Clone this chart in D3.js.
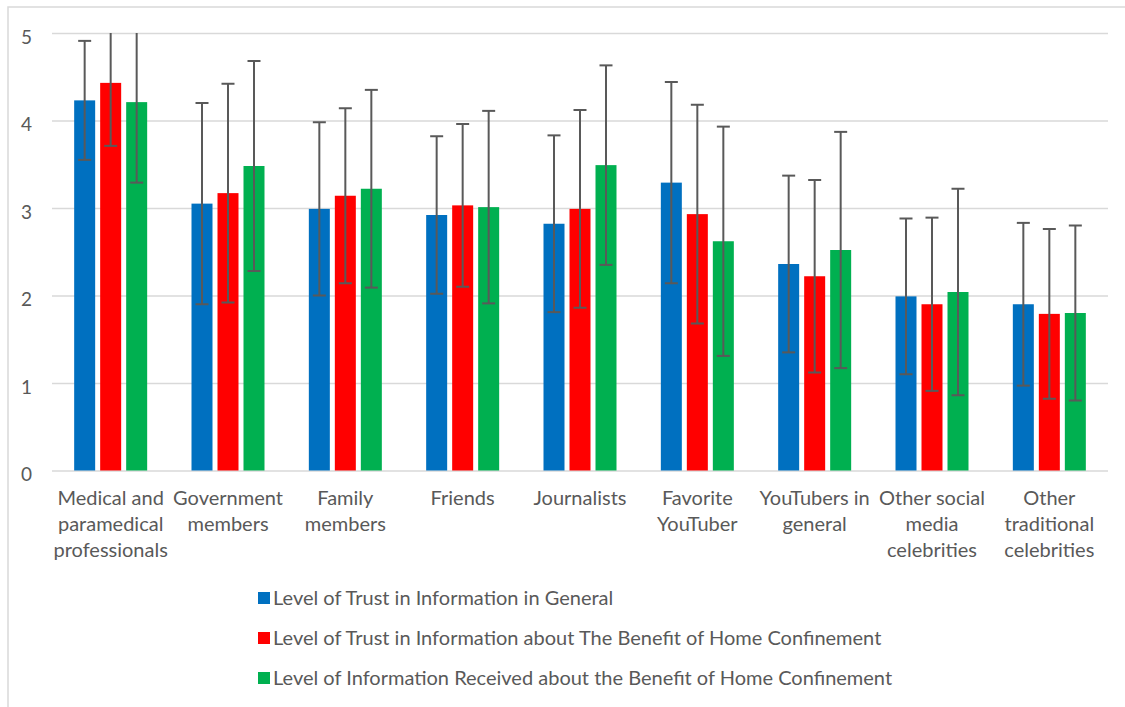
<!DOCTYPE html>
<html>
<head>
<meta charset="utf-8">
<script src="https://cdn.jsdelivr.net/npm/d3@7/dist/d3.min.js"></script>
<style>
  html, body { margin: 0; padding: 0; background: #fff; }
  svg { display: block; font-family: Lato, "Open Sans", sans-serif; }
</style>
</head>
<body>
<svg id="chart"></svg>
<script>
// categories, with the line breaks used under the axis
const categories = [
  ["Medical and", "paramedical", "professionals"],
  ["Government", "members"],
  ["Family", "members"],
  ["Friends"],
  ["Journalists"],
  ["Favorite", "YouTuber"],
  ["YouTubers in", "general"],
  ["Other social", "media", "celebrities"],
  ["Other", "traditional", "celebrities"]
];

const seriesNames = [
  "Level of Trust in Information in General",
  "Level of Trust in Information about The Benefit of Home Confinement",
  "Level of Information Received about the Benefit of Home Confinement"
];

const generalMean = [4.23, 3.05, 2.99, 2.92, 2.82, 3.29, 2.36, 1.99, 1.90];
const generalSd = [0.68, 1.15, 0.99, 0.90, 1.01, 1.15, 1.01, 0.89, 0.93];

const benefitMean = [4.43, 3.17, 3.14, 3.03, 2.99, 2.93, 2.22, 1.90, 1.79];
const benefitSd = [0.72, 1.25, 1.00, 0.93, 1.13, 1.25, 1.10, 0.99, 0.97];

const receivedMean = [4.21, 3.48, 3.22, 3.01, 3.49, 2.62, 2.52, 2.04, 1.80];
const receivedSd = [0.92, 1.20, 1.13, 1.10, 1.14, 1.31, 1.35, 1.18, 1.00];

const yTicks = [0, 1, 2, 3, 4, 5];

const colors = ["#0070C0", "#FF0000", "#00B050"];

const width = 1125;
const height = 707;
const plot = { left: 52, right: 1108, top: 33, bottom: 470.5 };

let xScale;
let xInner;
let yScale;
let data;

const drawCanvas = () => {
  const svg = d3.select("#chart")
    .attr("width", width)
    .attr("height", height);

  // chart area border (only left and top fall inside the picture)
  svg.append("rect")
    .attr("x", 8)
    .attr("y", 7)
    .attr("width", width + 20)
    .attr("height", height + 20)
    .attr("fill", "none")
    .attr("stroke", "#d9d9d9")
    .attr("stroke-width", 1.5);
};

const buildData = () => {
  const means = [generalMean, benefitMean, receivedMean];
  const sds = [generalSd, benefitSd, receivedSd];
  data = [];
  categories.forEach((c, i) => {
    seriesNames.forEach((s, j) => {
      data.push({ cat: i, series: j, mean: means[j][i], sd: sds[j][i] });
    });
  });
};

const generateScales = () => {
  xScale = d3.scaleBand()
    .domain(d3.range(categories.length))
    .range([plot.left, plot.right]);

  // three bars of 21px with 5px gaps inside each category
  xInner = d3.scaleBand()
    .domain(d3.range(seriesNames.length))
    .range([-36.5, 36.5])
    .paddingInner(5 / 26);

  yScale = d3.scaleLinear()
    .domain([0, 5])
    .range([plot.bottom, plot.top]);
};

const generateAxes = () => {
  const svg = d3.select("#chart");

  const grid = d3.axisLeft(yScale)
    .tickValues(yTicks)
    .tickSize(-(plot.right - plot.left))
    .tickFormat(d => d);

  const g = svg.append("g")
    .attr("transform", "translate(" + plot.left + ",0)")
    .call(grid);

  g.select(".domain").remove();
  g.selectAll(".tick line")
    .attr("stroke", "#d9d9d9")
    .attr("stroke-width", 1.5);
  g.selectAll(".tick text")
    .attr("x", -20)
    .attr("dy", "0.55em")
    .attr("fill", "#595959")
    .style("font-size", "19px")
    .style("font-family", "Lato, sans-serif");

  // category labels
  const labels = svg.append("g")
    .selectAll("text")
    .data(categories)
    .enter()
    .append("text")
    .attr("text-anchor", "middle")
    .attr("fill", "#595959")
    .style("font-size", "20px");

  labels.selectAll("tspan")
    .data((d, i) => d.map(line => ({ line, i })))
    .enter()
    .append("tspan")
    .attr("x", d => xScale(d.i) + xScale.bandwidth() / 2)
    .attr("y", (d, k) => 505 + k * 26)
    .text(d => d.line);
};

const generateBars = () => {
  const svg = d3.select("#chart");
  const center = i => xScale(i) + xScale.bandwidth() / 2;

  svg.append("g")
    .selectAll("rect")
    .data(data)
    .enter()
    .append("rect")
    .attr("x", d => center(d.cat) + xInner(d.series))
    .attr("width", xInner.bandwidth())
    .attr("y", d => yScale(d.mean))
    .attr("height", d => yScale(0) - yScale(d.mean))
    .attr("fill", d => colors[d.series]);

  // error bars, cut at the axis maximum like the original
  const err = svg.append("g")
    .selectAll("g")
    .data(data)
    .enter()
    .append("g")
    .attr("transform", d =>
      "translate(" + (center(d.cat) + xInner(d.series) + xInner.bandwidth() / 2) + ",0)");

  err.append("line")
    .attr("y1", d => yScale(Math.min(d.mean + d.sd, 5)))
    .attr("y2", d => yScale(Math.max(d.mean - d.sd, 0)))
    .attr("stroke", "#595959")
    .attr("stroke-width", 2);

  err.filter(d => d.mean + d.sd <= 5)
    .append("line")
    .attr("x1", -6.5)
    .attr("x2", 6.5)
    .attr("y1", d => yScale(d.mean + d.sd))
    .attr("y2", d => yScale(d.mean + d.sd))
    .attr("stroke", "#595959")
    .attr("stroke-width", 2);

  err.append("line")
    .attr("x1", -6.5)
    .attr("x2", 6.5)
    .attr("y1", d => yScale(d.mean - d.sd))
    .attr("y2", d => yScale(d.mean - d.sd))
    .attr("stroke", "#595959")
    .attr("stroke-width", 2);
};

const generateLegend = () => {
  const svg = d3.select("#chart");
  const legend = svg.append("g")
    .selectAll("g")
    .data(seriesNames)
    .enter()
    .append("g")
    .attr("transform", (d, i) => "translate(258," + (598 + i * 40) + ")");

  legend.append("rect")
    .attr("x", 0)
    .attr("y", -6)
    .attr("width", 12)
    .attr("height", 12)
    .attr("fill", (d, i) => colors[i]);

  legend.append("text")
    .attr("x", 15)
    .attr("y", 7)
    .attr("fill", "#595959")
    .style("font-size", "20px")
    .text(d => d);
};

drawCanvas();
buildData();
generateScales();
generateAxes();
generateBars();
generateLegend();
</script>
</body>
</html>
